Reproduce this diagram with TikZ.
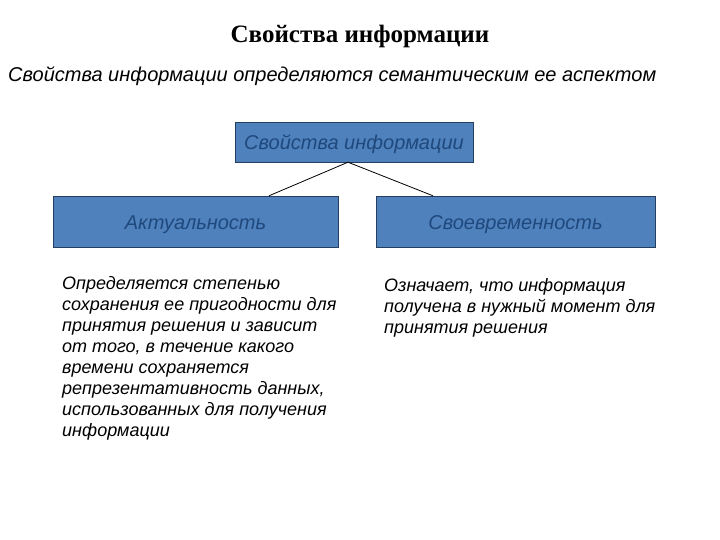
\documentclass[tikz,border=0pt]{standalone}
\usepackage{fontspec}
\setmainfont{Liberation Serif}
\newfontfamily\arialfont{Liberation Sans}
\usepackage{xcolor}
\definecolor{boxblue}{HTML}{4F81BD}
\definecolor{boxtext}{HTML}{1F497D}
\definecolor{boxline}{HTML}{243F60}

\begin{document}
\begin{tikzpicture}[x=1pt,y=-1pt,
        propbox/.style={draw=boxline, fill=boxblue, text=boxtext, inner sep=0pt,
            text height=21pt, text depth=5pt,
            font=\arialfont\itshape\fontsize{20}{24}\selectfont},
        desc/.style={anchor=north west, align=left, inner sep=0pt,
            font=\arialfont\itshape\fontsize{18}{21.1}\selectfont}]
        \useasboundingbox (0,0) rectangle (720,540);

        \node (title) at (360,36) {\bfseries\fontsize{25}{29}\selectfont Свойства информации};
        \node[anchor=west, inner sep=0pt, font=\arialfont\itshape\fontsize{20}{24}\selectfont]
            (subtitle) at (8,76) {Свойства информации определяются семантическим ее аспектом};

        \node[propbox, minimum width=238pt, minimum height=40pt] (props) at (354,142) {Свойства информации};
        \node[propbox, minimum width=285pt, minimum height=51pt] (actual) at (195.5,221.5) {Актуальность};
        \node[propbox, minimum width=279pt, minimum height=51pt] (timely) at (515.5,221.5) {Своевременность};

        \coordinate (apex) at ([xshift=-6pt]props.south);
        \draw[line width=0.8pt] (apex) -- (actual.north -| 269,0);
        \draw[line width=0.8pt] (apex) -- (timely.north -| 433,0);

        \node[desc] (actualtext) at (62,276) {Определяется степенью\\сохранения ее пригодности для\\принятия решения и зависит\\от того, в течение какого\\времени сохраняется\\репрезентативность данных,\\использованных для получения\\информации};
        \node[desc] (timelytext) at (384,278) {Означает, что информация\\получена в нужный момент для\\принятия решения};
    \end{tikzpicture}
\end{document}
